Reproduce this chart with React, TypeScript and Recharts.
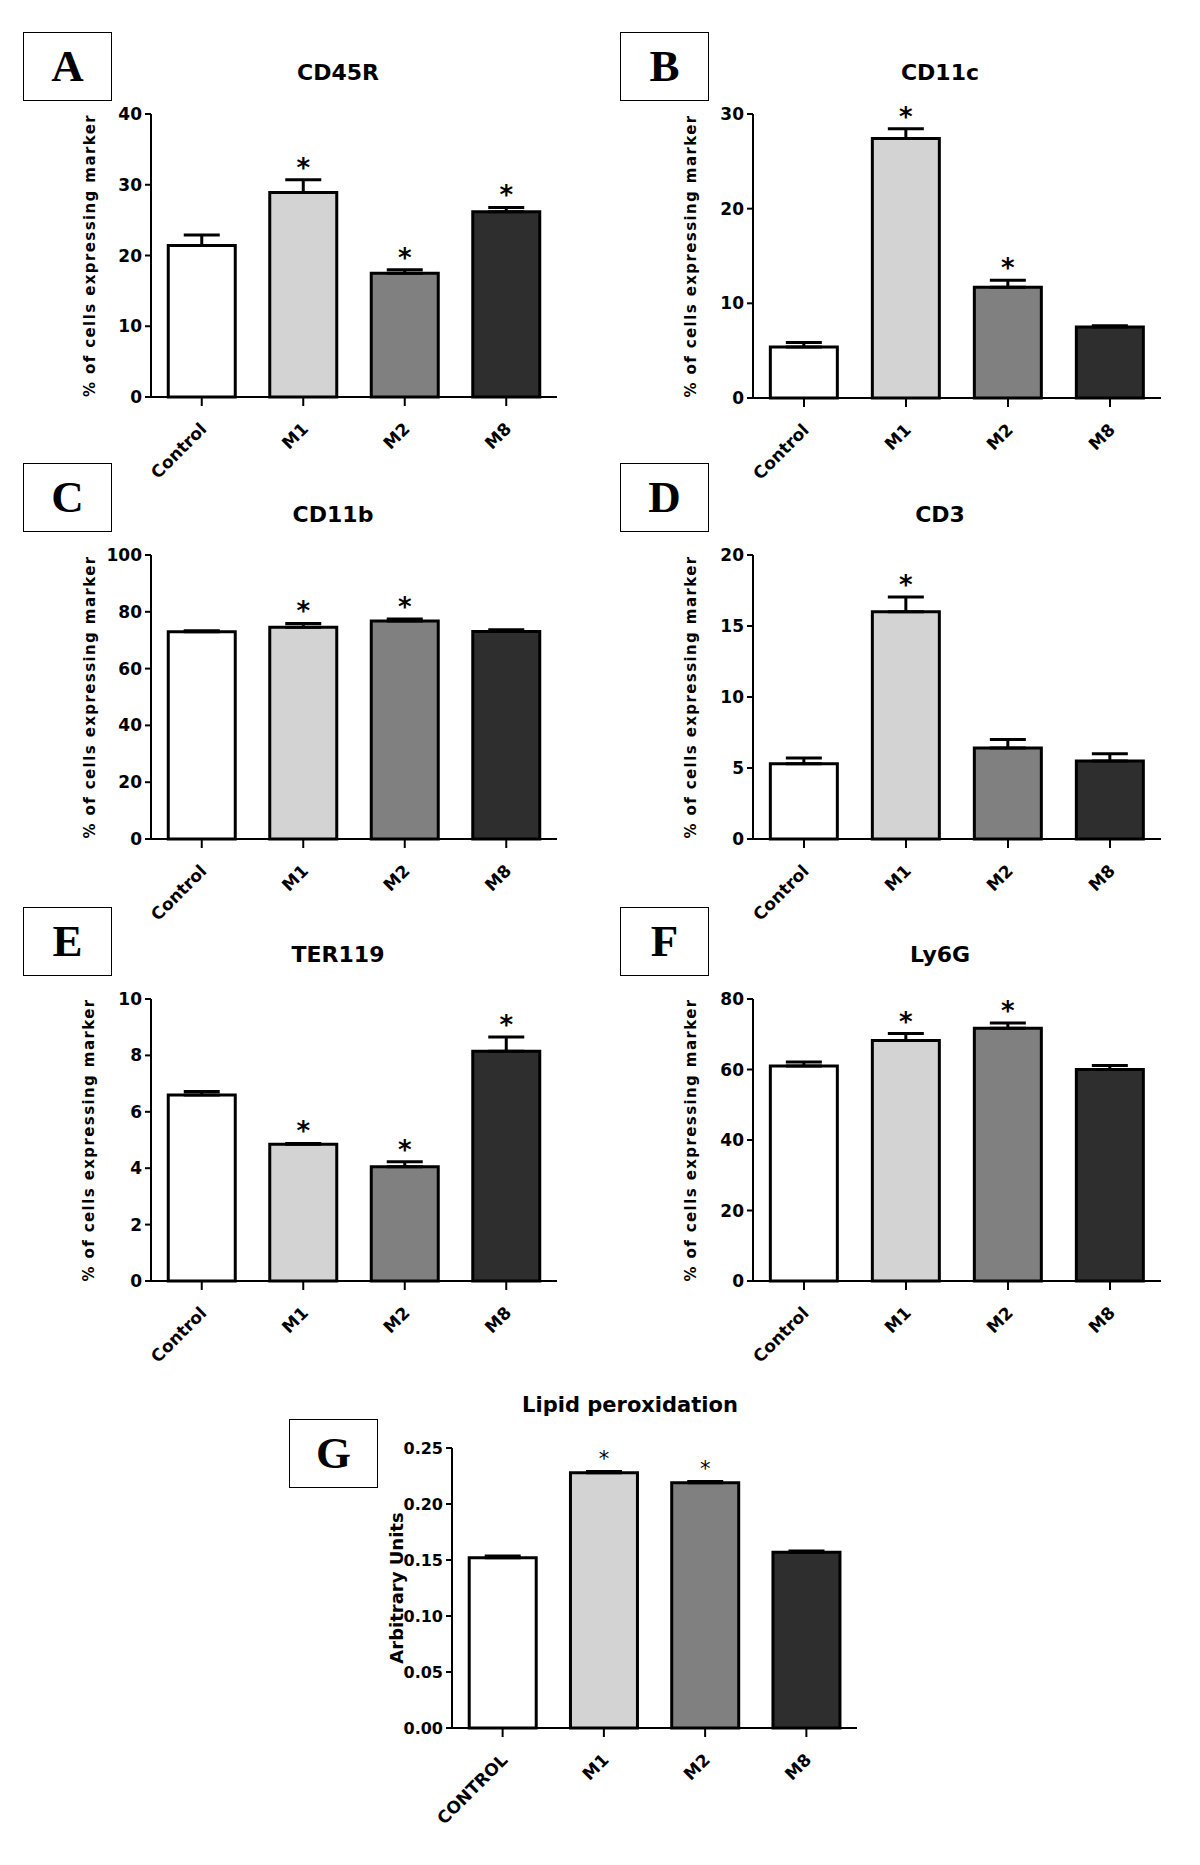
import React from 'react';
import { BarChart, Bar, XAxis, YAxis, ErrorBar, LabelList, Cell } from 'recharts';

// groups
const categories = ['Control', 'M1', 'M2', 'M8'];
const lipidCategories = ['CONTROL', 'M1', 'M2', 'M8'];
const barFills = ['#ffffff', '#d3d3d3', '#808080', '#2e2e2e'];

// A - CD45R
const cd45rMean = [21.4, 28.9, 17.5, 26.2];
const cd45rSem = [1.5, 1.8, 0.5, 0.6];
const cd45rSig = [false, true, true, true];
const cd45rTicks = [0, 10, 20, 30, 40];

// B - CD11c
const cd11cMean = [5.4, 27.4, 11.7, 7.5];
const cd11cSem = [0.45, 1.05, 0.75, 0.12];
const cd11cSig = [false, true, true, false];
const cd11cTicks = [0, 10, 20, 30];

// C - CD11b
const cd11bMean = [73.0, 74.6, 76.8, 73.1];
const cd11bSem = [0.3, 1.3, 0.7, 0.6];
const cd11bSig = [false, true, true, false];
const cd11bTicks = [0, 20, 40, 60, 80, 100];

// D - CD3
const cd3Mean = [5.3, 16.0, 6.4, 5.5];
const cd3Sem = [0.4, 1.05, 0.6, 0.5];
const cd3Sig = [false, true, false, false];
const cd3Ticks = [0, 5, 10, 15, 20];

// E - TER119
const ter119Mean = [6.6, 4.85, 4.05, 8.15];
const ter119Sem = [0.12, 0.03, 0.18, 0.5];
const ter119Sig = [false, true, true, true];
const ter119Ticks = [0, 2, 4, 6, 8, 10];

// F - Ly6G
const ly6gMean = [61.0, 68.2, 71.7, 60.0];
const ly6gSem = [1.1, 2.0, 1.5, 1.1];
const ly6gSig = [false, true, true, false];
const ly6gTicks = [0, 20, 40, 60, 80];

// G - lipid peroxidation
const lipidMean = [0.152, 0.228, 0.219, 0.157];
const lipidSem = [0.0015, 0.001, 0.001, 0.001];
const lipidSig = [false, true, true, false];
const lipidTicks = [0, 0.05, 0.1, 0.15, 0.2, 0.25];

const SANS = '"DejaVu Sans", "Liberation Sans", sans-serif';
const SERIF = '"Liberation Serif", "DejaVu Serif", serif';

const Y_AXIS_W = 90;
const MARGIN_TOP = 30;
const MARGIN_RIGHT = 12;
const X_AXIS_H = 110;

interface Row {
  name: string;
  value: number;
  err: number[];
  sem: number;
  sig: boolean;
}

function buildRows(names: string[], mean: number[], sem: number[], sig: boolean[]): Row[] {
  return names.map((name, i) => ({ name, value: mean[i], err: [0, sem[i]], sem: sem[i], sig: sig[i] }));
}

interface PanelConfig {
  letter: string;
  name: string;
  titleSize: number;
  rows: Row[];
  ticks: number[];
  plot: { left: number; top: number; width: number; height: number };
  box: { x: number; y: number };
  title: { x: number; y: number };
  yLabel: string;
  yLabelX: number;
  yLabelSize: number;
  yLabelSpacing: number;
  tickSize: number;
  starSize: number;
  starWeight: string;
  decimals: number;
}

const PCT = '% of cells expressing marker';

const panels: PanelConfig[] = [
  {
    letter: 'A', name: 'CD45R', titleSize: 22, rows: buildRows(categories, cd45rMean, cd45rSem, cd45rSig), ticks: cd45rTicks,
    plot: { left: 151, top: 114, width: 406, height: 283 }, box: { x: 23, y: 32 }, title: { x: 338, y: 73 },
    yLabel: PCT, yLabelX: 90, yLabelSize: 15, yLabelSpacing: 1.4, tickSize: 17, starSize: 26, starWeight: 'bold', decimals: 0,
  },
  {
    letter: 'B', name: 'CD11c', titleSize: 22, rows: buildRows(categories, cd11cMean, cd11cSem, cd11cSig), ticks: cd11cTicks,
    plot: { left: 753, top: 114, width: 408, height: 284 }, box: { x: 620, y: 32 }, title: { x: 940, y: 73 },
    yLabel: PCT, yLabelX: 691, yLabelSize: 15, yLabelSpacing: 1.4, tickSize: 17, starSize: 26, starWeight: 'bold', decimals: 0,
  },
  {
    letter: 'C', name: 'CD11b', titleSize: 22, rows: buildRows(categories, cd11bMean, cd11bSem, cd11bSig), ticks: cd11bTicks,
    plot: { left: 151, top: 555, width: 406, height: 284 }, box: { x: 23, y: 463 }, title: { x: 333, y: 515 },
    yLabel: PCT, yLabelX: 90, yLabelSize: 15, yLabelSpacing: 1.4, tickSize: 17, starSize: 26, starWeight: 'bold', decimals: 0,
  },
  {
    letter: 'D', name: 'CD3', titleSize: 22, rows: buildRows(categories, cd3Mean, cd3Sem, cd3Sig), ticks: cd3Ticks,
    plot: { left: 753, top: 555, width: 408, height: 284 }, box: { x: 620, y: 463 }, title: { x: 940, y: 515 },
    yLabel: PCT, yLabelX: 691, yLabelSize: 15, yLabelSpacing: 1.4, tickSize: 17, starSize: 26, starWeight: 'bold', decimals: 0,
  },
  {
    letter: 'E', name: 'TER119', titleSize: 22, rows: buildRows(categories, ter119Mean, ter119Sem, ter119Sig), ticks: ter119Ticks,
    plot: { left: 151, top: 999, width: 406, height: 282 }, box: { x: 23, y: 907 }, title: { x: 338, y: 955 },
    yLabel: PCT, yLabelX: 89, yLabelSize: 15, yLabelSpacing: 1.4, tickSize: 17, starSize: 26, starWeight: 'bold', decimals: 0,
  },
  {
    letter: 'F', name: 'Ly6G', titleSize: 22, rows: buildRows(categories, ly6gMean, ly6gSem, ly6gSig), ticks: ly6gTicks,
    plot: { left: 753, top: 999, width: 408, height: 282 }, box: { x: 620, y: 907 }, title: { x: 940, y: 955 },
    yLabel: PCT, yLabelX: 691, yLabelSize: 15, yLabelSpacing: 1.4, tickSize: 17, starSize: 26, starWeight: 'bold', decimals: 0,
  },
  {
    letter: 'G', name: 'Lipid peroxidation', titleSize: 21, rows: buildRows(lipidCategories, lipidMean, lipidSem, lipidSig), ticks: lipidTicks,
    plot: { left: 452, top: 1448, width: 405, height: 280 }, box: { x: 289, y: 1419 }, title: { x: 630, y: 1405 },
    yLabel: 'Arbitrary Units', yLabelX: 396, yLabelSize: 18, yLabelSpacing: 0, tickSize: 16, starSize: 21, starWeight: 'normal', decimals: 2,
  },
];

const XTick = ({ x, y, payload }: any) => {
  const ax = x + 6;
  const ay = y + 22;
  return (
    <text
      x={ax}
      y={ay}
      transform={`rotate(-45 ${ax} ${ay})`}
      textAnchor="end"
      fill="#000"
      fontFamily={SANS}
      fontWeight="bold"
      fontSize={17}
    >
      {payload.value}
    </text>
  );
};

function Panel({ cfg }: { cfg: PanelConfig }) {
  const { plot, rows } = cfg;
  const chartLeft = plot.left - Y_AXIS_W;
  const chartTop = plot.top - MARGIN_TOP;
  const width = Y_AXIS_W + plot.width + MARGIN_RIGHT;
  const height = MARGIN_TOP + plot.height + X_AXIS_H;
  const maxTick = cfg.ticks[cfg.ticks.length - 1];

  // star sits above the error bar cap, using the bar's own pixel height for scale
  const renderStar = (p: any) => {
    const idx = typeof p.index === 'number' ? p.index : rows.findIndex((r) => r.value === p.value);
    const row = rows[idx];
    if (!row || !row.sig) return null;
    const vb = p.viewBox || p;
    const bx = Number(vb.x);
    const by = Number(vb.y);
    const bw = Number(vb.width);
    const bh = Number(vb.height);
    const top = Math.min(by, by + bh);
    const perUnit = Math.abs(bh) / row.value;
    const errTop = top - row.sem * perUnit;
    const cy = errTop - 17;
    return (
      <text
        x={bx + bw / 2}
        y={cy + cfg.starSize * 0.54}
        textAnchor="middle"
        fill="#000"
        fontFamily={SANS}
        fontWeight={cfg.starWeight}
        fontSize={cfg.starSize}
      >
        *
      </text>
    );
  };

  const renderYLabel = () => {
    const cx = cfg.yLabelX - chartLeft;
    const cy = MARGIN_TOP + plot.height / 2;
    return (
      <text
        x={cx}
        y={cy}
        transform={`rotate(-90 ${cx} ${cy})`}
        textAnchor="middle"
        dominantBaseline="central"
        fill="#000"
        fontFamily={SANS}
        fontWeight="bold"
        fontSize={cfg.yLabelSize}
        style={{ letterSpacing: cfg.yLabelSpacing }}
      >
        {cfg.yLabel}
      </text>
    );
  };

  return (
    <>
      <div
        style={{
          position: 'absolute',
          left: cfg.box.x,
          top: cfg.box.y,
          width: 89,
          height: 69,
          border: '1.5px solid #000',
          boxSizing: 'border-box',
          display: 'flex',
          alignItems: 'center',
          justifyContent: 'center',
          fontFamily: SERIF,
          fontWeight: 'bold',
          fontSize: 45,
          lineHeight: 1,
          color: '#000',
        }}
      >
        {cfg.letter}
      </div>
      <div
        style={{
          position: 'absolute',
          left: cfg.title.x - 200,
          top: cfg.title.y - cfg.titleSize * 0.48,
          width: 400,
          textAlign: 'center',
          fontFamily: SANS,
          fontWeight: 'bold',
          fontSize: cfg.titleSize,
          lineHeight: `${cfg.titleSize}px`,
          whiteSpace: 'nowrap',
          color: '#000',
        }}
      >
        {cfg.name}
      </div>
      <div style={{ position: 'absolute', left: chartLeft, top: chartTop }}>
        <BarChart
          width={width}
          height={height}
          data={rows}
          margin={{ top: MARGIN_TOP, right: MARGIN_RIGHT, left: 0, bottom: 0 }}
          barCategoryGap="17%"
        >
          <XAxis
            dataKey="name"
            interval={0}
            height={X_AXIS_H}
            axisLine={{ stroke: '#000', strokeWidth: 2 }}
            tickLine={{ stroke: '#000', strokeWidth: 2 }}
            tickSize={9}
            tick={<XTick />}
          />
          <YAxis
            width={Y_AXIS_W}
            domain={[0, maxTick]}
            ticks={cfg.ticks}
            interval={0}
            axisLine={{ stroke: '#000', strokeWidth: 2 }}
            tickLine={{ stroke: '#000', strokeWidth: 2 }}
            tickSize={6}
            tickMargin={3}
            tickFormatter={(v: number) => v.toFixed(cfg.decimals)}
            tick={{ fill: '#000', fontFamily: SANS, fontWeight: 'bold', fontSize: cfg.tickSize }}
            label={renderYLabel}
          />
          <Bar dataKey="value" stroke="#000" strokeWidth={3} isAnimationActive={false}>
            {rows.map((r, i) => (
              <Cell key={`cell-${r.name}`} fill={barFills[i]} />
            ))}
            <ErrorBar dataKey="err" direction="y" width={18} stroke="#000" strokeWidth={3} isAnimationActive={false} />
            <LabelList dataKey="value" content={renderStar} />
          </Bar>
        </BarChart>
      </div>
    </>
  );
}

export default function App() {
  return (
    <div style={{ position: 'absolute', left: 0, top: 0, width: 1200, height: 1865, background: '#fff' }}>
      {panels.map((p) => (
        <Panel key={p.letter} cfg={p} />
      ))}
    </div>
  );
}
